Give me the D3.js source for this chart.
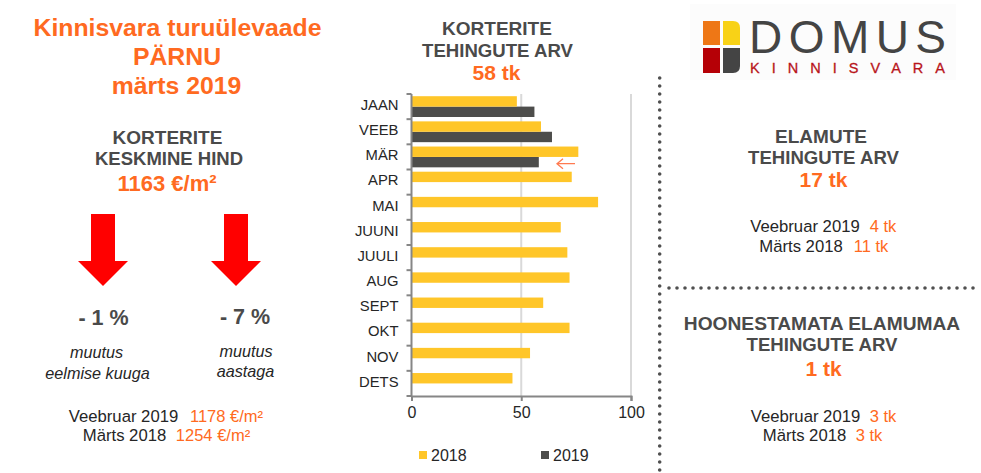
<!DOCTYPE html>
<html>
<head>
<meta charset="utf-8">
<script src="https://cdnjs.cloudflare.com/ajax/libs/d3/7.8.5/d3.min.js"></script>
<style>
  html, body { margin: 0; padding: 0; background: #fff; }
  svg { display: block; font-family: "Liberation Sans", Arial, sans-serif; }
</style>
</head>
<body>
<svg id="chart" width="981" height="473"></svg>
<script>
const months = ['JAAN', 'VEEB', 'MÄR', 'APR', 'MAI', 'JUUNI', 'JUULI', 'AUG', 'SEPT', 'OKT', 'NOV', 'DETS']
const series = ['2018', '2019']
const values2018 = [48, 59, 76, 73, 85, 68, 71, 72, 60, 72, 54, 46]
const values2019 = [56, 64, 58]
const xTicks = [0, 50, 100]

const orange = '#ff6a21'
const dark = '#4a4a4a'
const ink = '#262626'
const colors = { 2018: '#ffc629', 2019: '#4d4d4b' }

const svg = d3.select('#chart')

// Bar chart
const x = d3.scaleLinear().domain([0, 100]).range([411.5, 631])
const y = d3.scaleBand().domain(months).range([94, 396])
const inner = d3.scaleBand().domain(series).range([2.2, 23]).paddingInner(0)

svg.append('g').selectAll('line')
  .data(xTicks.slice(1))
  .join('line')
  .attr('x1', d => x(d)).attr('x2', d => x(d))
  .attr('y1', 94).attr('y2', 396)
  .attr('stroke', '#d9d9d9').attr('stroke-width', 2)

const rows = months.map((m, i) => ({ m, a: values2018[i], b: values2019[i] }))

svg.append('g').selectAll('rect')
  .data(rows.filter(d => d.b !== undefined))
  .join('rect')
  .attr('x', x(0))
  .attr('y', d => y(d.m) + inner('2019'))
  .attr('width', d => x(d.b) - x(0))
  .attr('height', inner.bandwidth())
  .attr('fill', colors[2019])

svg.append('g').selectAll('rect')
  .data(rows)
  .join('rect')
  .attr('x', x(0))
  .attr('y', d => y(d.m) + inner('2018'))
  .attr('width', d => x(d.a) - x(0))
  .attr('height', inner.bandwidth())
  .attr('fill', colors[2018])

const yAxis = svg.append('g')
  .attr('transform', `translate(${x(0)},-1.5)`)
  .call(d3.axisLeft(y).tickSize(0).tickPadding(13))
yAxis.select('.domain').remove()
yAxis.selectAll('text').attr('font-size', 14.8).attr('fill', ink)

// month separators on the axis
svg.append('g').selectAll('line')
  .data(d3.range(months.length + 1))
  .join('line')
  .attr('x1', x(0) - 5).attr('x2', x(0))
  .attr('y1', i => 94 + i * y.step()).attr('y2', i => 94 + i * y.step())
  .attr('stroke', '#868686').attr('stroke-width', 2)

const xAxis = svg.append('g')
  .attr('transform', 'translate(0,396)')
  .call(d3.axisBottom(x).tickValues(xTicks).tickSize(5).tickPadding(6))
xAxis.select('.domain').attr('stroke', '#868686').attr('stroke-width', 2)
xAxis.selectAll('line').attr('stroke', '#868686').attr('stroke-width', 2)
xAxis.selectAll('text').attr('font-size', 16).attr('fill', ink)

svg.append('line')
  .attr('x1', x(0)).attr('x2', x(0)).attr('y1', 94).attr('y2', 397)
  .attr('stroke', '#868686').attr('stroke-width', 2)

// small arrow next to the current month
const arrowY = y('MÄR') + inner('2019') + inner.bandwidth() / 2 + 1.5
svg.append('path')
  .attr('d', `M575,${arrowY}H557M563,${arrowY - 5}L557,${arrowY}L563,${arrowY + 5}`)
  .attr('fill', 'none').attr('stroke', '#ff7a50').attr('stroke-width', 1.3)

// Legend
const legend = svg.append('g').selectAll('g')
  .data(series)
  .join('g')
  .attr('transform', (d, i) => `translate(${419 + i * 122},0)`)
legend.append('rect')
  .attr('y', 451).attr('width', 8).attr('height', 8)
  .attr('fill', d => colors[d])
legend.append('text')
  .attr('x', 12).attr('y', 461).attr('font-size', 16).attr('fill', ink)
  .text(d => d)

// Text blocks: text, x, y, size, colour, bold
const labels = [
  ['Kinnisvara turuülevaade', 177.5, 36, 24.8, orange, true],
  ['PÄRNU', 177, 65, 24.8, orange, true],
  ['märts 2019', 176.5, 94, 24.8, orange, true],
  ['KORTERITE', 167.5, 143.5, 19, dark, true],
  ['KESKMINE HIND', 169, 164.5, 18.5, dark, true],
  ['1163 €/m²', 167, 191, 22, orange, true],
  ['- 1 %', 103.5, 325, 21.5, dark, true],
  ['- 7 %', 245, 324, 21.5, dark, true],
  ['Veebruar 2019', 123.5, 422, 16.7, ink, false],
  ['Märts 2018', 124.5, 441, 16.7, ink, false],
  ['1178 €/m²', 226.5, 422, 16.5, orange, false],
  ['1254 €/m²', 213, 441, 16.5, orange, false],
  ['KORTERITE', 497, 35, 19, dark, true],
  ['TEHINGUTE ARV', 497.5, 57, 18.6, dark, true],
  ['58 tk', 496.5, 80, 21, orange, true],
  ['ELAMUTE', 821, 143, 19, dark, true],
  ['TEHINGUTE ARV', 823.5, 164, 18.6, dark, true],
  ['17 tk', 823.5, 187, 21, orange, true],
  ['Veebruar 2019', 805, 232, 16.7, ink, false],
  ['Märts 2018', 801, 252, 16.7, ink, false],
  ['4 tk', 883, 232, 16.5, orange, false],
  ['11 tk', 871, 252, 16.5, orange, false],
  ['HOONESTAMATA ELAMUMAA', 822, 330, 19.2, dark, true],
  ['TEHINGUTE ARV', 822, 351, 18.6, dark, true],
  ['1 tk', 823.5, 376, 21, orange, true],
  ['Veebruar 2019', 805.5, 422, 16.7, ink, false],
  ['Märts 2018', 804.5, 441, 16.7, ink, false],
  ['3 tk', 883, 422, 16.5, orange, false],
  ['3 tk', 869, 441, 16.5, orange, false]
]
svg.append('g').selectAll('text')
  .data(labels)
  .join('text')
  .attr('text-anchor', 'middle')
  .attr('x', d => d[1]).attr('y', d => d[2])
  .attr('font-size', d => d[3]).attr('fill', d => d[4])
  .attr('font-weight', d => d[5] ? 'bold' : 'normal')
  .text(d => d[0])

const notes = [
  ['muutus', 96.5, 358], ['eelmise kuuga', 97.5, 379],
  ['muutus', 246, 357], ['aastaga', 245.5, 377]
]
svg.append('g').selectAll('text')
  .data(notes)
  .join('text')
  .attr('text-anchor', 'middle')
  .attr('x', d => d[1]).attr('y', d => d[2])
  .attr('font-size', 16.2).attr('font-style', 'italic').attr('fill', ink)
  .text(d => d[0])

// Red arrows
const arrows = [103, 236]
svg.append('g').selectAll('path')
  .data(arrows)
  .join('path')
  .attr('d', d => `M${d - 12},214H${d + 12}V261H${d + 25}L${d},286L${d - 25},261H${d - 12}Z`)
  .attr('fill', '#ff0000')

// Dotted separators
const dotted = [[659.7, 78, 659.7, 473], [669, 288, 978, 288]]
svg.append('g').selectAll('line')
  .data(dotted)
  .join('line')
  .attr('x1', d => d[0]).attr('y1', d => d[1]).attr('x2', d => d[2]).attr('y2', d => d[3])
  .attr('stroke', '#505050').attr('stroke-width', 3.6)
  .attr('stroke-linecap', 'round').attr('stroke-dasharray', '0 8')

// Logo
const logo = svg.append('g')
logo.append('rect').attr('x', 690).attr('y', 4).attr('width', 266).attr('height', 76).attr('fill', '#fcfcfc')
const logoSquares = [
  ['M703,21h17v24h-17Z', '#ee7716'],
  ['M723,21h10q7,0 7,7v17h-17Z', '#f8d217'],
  ['M703,48h17v25h-17Z', '#b50006'],
  ['M723,48h17v18q0,7 -7,7h-10Z', '#444444']
]
logo.selectAll('path')
  .data(logoSquares)
  .join('path')
  .attr('d', d => d[0])
  .attr('fill', d => d[1])
logo.append('text').attr('x', 749).attr('y', 53).attr('font-size', 46)
  .attr('fill', '#444').attr('textLength', 197).attr('lengthAdjust', 'spacing').text('DOMUS')
logo.append('text').attr('x', 750).attr('y', 73).attr('font-size', 14.5)
  .attr('fill', '#b8141a').attr('stroke', '#b8141a').attr('stroke-width', 0.3)
  .attr('textLength', 195).attr('lengthAdjust', 'spacing').text('KINNISVARA')
</script>
</body>
</html>
